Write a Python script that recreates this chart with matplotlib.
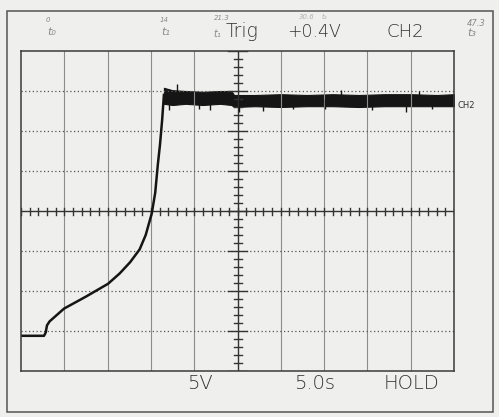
import numpy as np
from matplotlib import pyplot as plt
from matplotlib.patches import Rectangle

# trace: time in s (5 s/div), voltage in V (5 V/div)
ramp_t = [0.0, 2.66, 2.85, 3.0, 3.3, 4.97, 7.5, 10.05, 11.4, 12.6, 13.7, 14.4, 15.1, 15.5, 15.8, 16.05, 16.3, 16.5]
ramp_v = [-15.6, -15.6, -15.2, -14.3, -13.8, -12.2, -10.7, -9.1, -7.8, -6.4, -4.8, -3.0, -0.3, 2.3, 5.8, 8.3, 11.4, 14.5]

env_t = [16.5, 17.5, 19.0, 21.0, 23.0, 24.3, 24.6, 27.0, 30.0, 33.0, 36.0, 39.0, 42.0, 45.0, 48.0, 50.0]
env_hi = [15.4, 15.1, 15.0, 14.9, 15.0, 15.0, 14.5, 14.5, 14.6, 14.5, 14.6, 14.5, 14.6, 14.6, 14.5, 14.6]
env_lo = [13.4, 13.25, 13.4, 13.25, 13.4, 13.25, 13.0, 13.1, 13.0, 13.1, 13.1, 13.0, 13.1, 13.1, 13.1, 13.1]

spike_t = [17.1, 18.0, 20.5, 21.8, 25.2, 28.0, 31.4, 35.1, 37.0, 40.5, 44.5, 46.0, 47.5]
spike_v = [12.6, 15.9, 12.8, 12.6, 12.4, 12.5, 12.7, 12.8, 15.1, 12.6, 12.4, 15.0, 12.7]

div_t = np.arange(0, 51, 5)
div_v = np.arange(-20, 21, 5)

W, H = 499, 417
paper = '#efefed'

fig = plt.figure(figsize=(W / 100, H / 100), dpi=100, facecolor=paper)

def fx(px):
    return px / W

def fy(py):
    return 1 - py / H

# outer printout frame
fig.patches.append(Rectangle((fx(7), fy(412)), fx(493) - fx(7), fy(11) - fy(412),
                             transform=fig.transFigure, fill=False, ec='#555555', lw=1.1))

ax = fig.add_axes([fx(21), fy(371), fx(454) - fx(21), fy(51) - fy(371)])
ax.set_facecolor(paper)
ax.set_xlim(0, 50)
ax.set_ylim(-20, 20)
ax.set_xticks([])
ax.set_yticks([])
for sp in ax.spines.values():
    sp.set_color('#3a3a3a')
    sp.set_linewidth(1.1)

# graticule
for t in div_t[1:-1]:
    if t != 25:
        ax.axvline(t, color='#8c8c8c', lw=0.8)
for v in div_v[1:-1]:
    if v != 0:
        ax.axhline(v, color='#555555', lw=0.9, ls=(0, (1, 2)))
ax.axhline(0, color='#333333', lw=1.0)
ax.axvline(25, color='#333333', lw=1.0)

# centre-axis ticks (0.2 div steps)
tv = 5 / 40  # volts per pixel
tt = 5 / 43.3  # seconds per pixel
for t in np.arange(0, 50.01, 1.0):
    ax.plot([t, t], [-3.5 * tv, 3.5 * tv], color='#333333', lw=1.0)
for v in np.arange(-20, 20.01, 1.0):
    half = 9.5 if v % 5 == 0 else 4
    ax.plot([25 - half * tt, 25 + half * tt], [v, v], color='#333333', lw=1.0)

# signal
ax.plot(ramp_t, ramp_v, color='#151515', lw=1.8, solid_joinstyle='round')
ax.fill_between(env_t, env_lo, env_hi, color='#151515', lw=0.8, ec='#151515')
ax.vlines(spike_t, 14.0, spike_v, color='#151515', lw=1.0)

# screen readouts
osc = dict(family='DejaVu Sans', fontweight='light', color='#333333')
fig.text(fx(226), fy(37), 'Trig', fontsize=13.5, ha='left', va='baseline', **osc)
fig.text(fx(287), fy(37), '+0.4V', fontsize=12.5, ha='left', va='baseline', **osc)
fig.text(fx(386), fy(37), 'CH2', fontsize=13, ha='left', va='baseline', **osc)
fig.text(fx(187), fy(389), '5V', fontsize=14, ha='left', va='baseline', **osc)
fig.text(fx(294), fy(389), '5.0s', fontsize=14, ha='left', va='baseline', **osc)
fig.text(fx(384), fy(389), 'HOLD', fontsize=14, ha='left', va='baseline', **osc)
fig.text(fx(457), fy(106), 'CH2', fontsize=6, ha='left', va='center', color='#333333')

# pencil notes
pencil = dict(color='#8a8a8a', style='italic', ha='center', va='center')
faint = dict(color='#b0b0b0', style='italic', ha='center', va='center')
fig.text(fx(48), fy(20), '0', fontsize=5, **pencil)
fig.text(fx(52), fy(32), 't₀', fontsize=8, **pencil)
fig.text(fx(164), fy(20), '14', fontsize=5, **pencil)
fig.text(fx(166), fy(32), 't₁', fontsize=8, **pencil)
fig.text(fx(222), fy(18), '21.3', fontsize=5, **pencil)
fig.text(fx(217), fy(34), 't₁', fontsize=7, **pencil)
fig.text(fx(307), fy(17), '30.6', fontsize=5, **faint)
fig.text(fx(324), fy(17), 't₂', fontsize=5, **faint)
fig.text(fx(476), fy(23), '47.3', fontsize=6, **pencil)
fig.text(fx(472), fy(33), 't₃', fontsize=8, **pencil)

fig.savefig('out.png', dpi=100, facecolor=paper)
